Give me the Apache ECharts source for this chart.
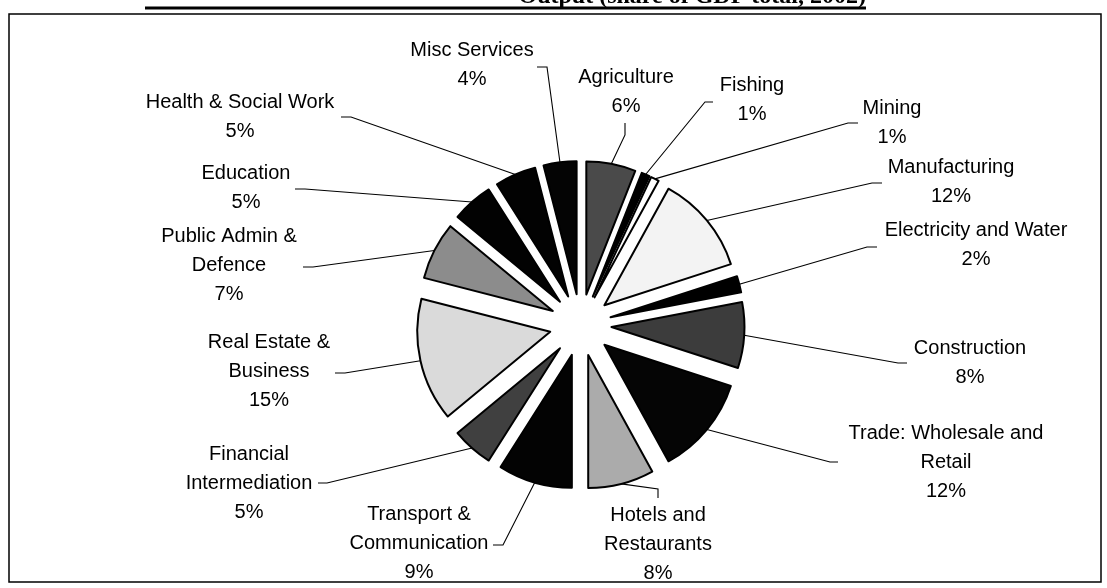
<!DOCTYPE html>
<html><head><meta charset="utf-8">
<script src="https://cdn.jsdelivr.net/npm/echarts@6/dist/echarts.min.js"></script>
<style>html,body{margin:0;padding:0;background:#fff}#c{width:1107px;height:588px}</style>
</head><body><div id="c"></div>
<script>
// ---- data ----
const categories = ['Agriculture', 'Fishing', 'Mining', 'Manufacturing', 'Electricity and Water', 'Construction',
  'Trade: Wholesale and\nRetail', 'Hotels and\nRestaurants', 'Transport &\nCommunication', 'Financial\nIntermediation',
  'Real Estate &\nBusiness', 'Public Admin &\nDefence', 'Education', 'Health & Social Work', 'Misc Services'];
const shares = [6, 1, 1, 12, 2, 8, 12, 8, 9, 5, 15, 7, 5, 5, 4];
const titleText = 'Output (share of GDP total, 2002)';

// ---- styles / layout ----
const sliceColors = ['#4a4a4a', '#000000', '#ffffff', '#f3f3f3', '#000000', '#3c3c3c', '#050505', '#ababab',
  '#030303', '#404040', '#dadada', '#8c8c8c', '#020202', '#020202', '#040404'];
const labelCenters = [[626, 92], [752, 100], [892, 123], [951, 182], [976, 245], [970, 363], [946, 462], [658, 544],
  [419, 543], [249, 483], [269, 371], [229, 265], [246, 188], [240, 117], [472, 65]];
const leaderBend = [[625, 135], [705, 102], [848, 123], [872, 183], [867, 247], [898, 363], [830, 462], [658, 489],
  [503, 545], [327, 483], [345, 373], [313, 267], [305, 189], [351, 117], [547, 67]];
const leaderEnd = [[625, 123], [713, 102], [858, 123], [882, 183], [877, 247], [907, 363], [838, 462], [658, 498],
  [493, 545], [318, 483], [335, 373], [303, 267], [295, 189], [341, 117], [537, 67]];
const PIE_CX = 580.5, PIE_CY = 325, PIE_R = 133, EXPLODE = 31;
const FONT = 'Liberation Sans, Arial, sans-serif';

const total = shares.reduce((a, b) => a + b, 0);
const series = [];
let cum = 0;
shares.forEach((v, i) => {
  const mid = 2 * Math.PI * (cum + v / 2) / total;
  cum += v;
  const sx = PIE_CX + EXPLODE * Math.sin(mid);
  const sy = PIE_CY - EXPLODE * Math.cos(mid);
  const fallbackAnchor = [sx + PIE_R * Math.sin(mid), sy - PIE_R * Math.cos(mid)];
  series.push({
    type: 'pie',
    center: [sx, sy],
    radius: [0, PIE_R],
    startAngle: 90,
    clockwise: true,
    silent: true,
    animation: false,
    avoidLabelOverlap: false,
    emphasis: { disabled: true },
    label: {
      formatter: '{b}\n{c}%',
      fontFamily: FONT, fontSize: 20, lineHeight: 29, color: '#000', align: 'center'
    },
    labelLine: { length: 10, length2: 10, lineStyle: { color: '#000', width: 1.1 } },
    labelLayout: function (p) {
      if (p.dataIndex !== i) return {};
      const a = (p.labelLinePoints && p.labelLinePoints[0]) || fallbackAnchor;
      return {
        x: labelCenters[i][0], y: labelCenters[i][1], align: 'center', verticalAlign: 'middle',
        labelLinePoints: [a, leaderBend[i], leaderEnd[i]]
      };
    },
    data: categories.map((n, j) => ({
      name: n, value: shares[j],
      itemStyle: j === i ? { color: sliceColors[i], borderColor: '#000', borderWidth: 2 }
        : { color: 'rgba(0,0,0,0)', borderWidth: 0 },
      label: { show: j === i },
      labelLine: { show: j === i }
    }))
  });
});

const chart = echarts.init(document.getElementById('c'), null, { renderer: 'canvas' });
chart.setOption({
  backgroundColor: '#ffffff',
  animation: false,
  graphic: [
    { type: 'rect', shape: { x: 9, y: 14, width: 1092, height: 568 }, style: { fill: 'none', stroke: '#000', lineWidth: 1.5 }, z: 0 },
    { type: 'text', x: 866, y: -3, style: { text: titleText, font: 'bold 24px "Liberation Serif", "Times New Roman", serif', fill: '#000', align: 'right', verticalAlign: 'middle' }, z: 10 },
    { type: 'line', shape: { x1: 145, y1: 8, x2: 866, y2: 8 }, style: { stroke: '#000', lineWidth: 3 }, z: 10 }
  ],
  series: series
});
</script></body></html>
